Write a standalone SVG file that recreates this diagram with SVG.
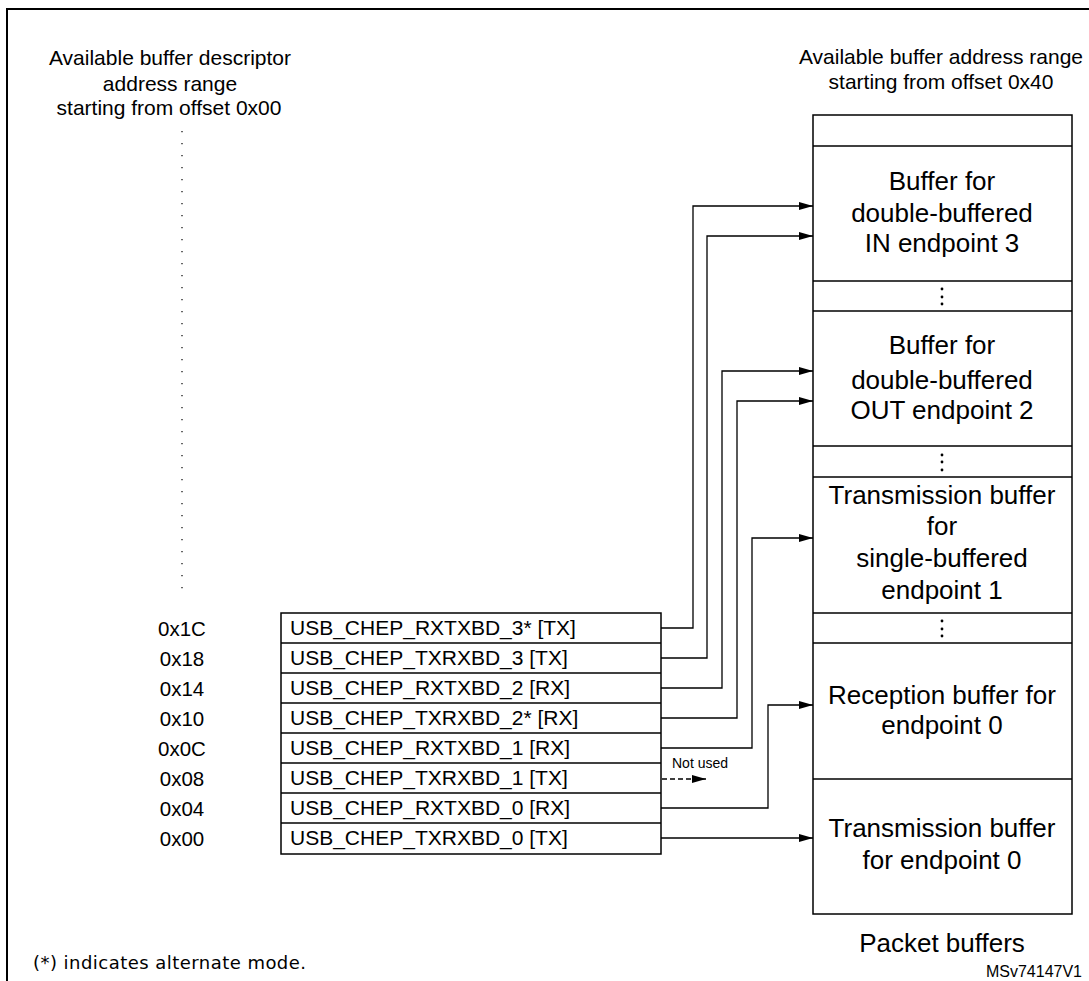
<svg xmlns="http://www.w3.org/2000/svg" width="1089" height="981" viewBox="0 0 1089 981">
<style>
text{font-family:"Liberation Sans",Arial,sans-serif;fill:#000}
.h{font-size:21px;text-anchor:middle}
.b{font-size:26px;text-anchor:middle}
.a{font-size:20.5px;text-anchor:middle}
.t{font-size:21px}
.box{fill:#fff;stroke:#000;stroke-width:1.5}
.c{fill:none;stroke:#000;stroke-width:1.3}
.d{fill:#000}
</style>
<defs>
<marker id="ar" markerWidth="14" markerHeight="8" refX="14" refY="4" orient="auto" markerUnits="userSpaceOnUse"><path d="M0,0L14,4L0,8z" fill="#000"/></marker>
</defs>
<rect width="1089" height="981" fill="#fff"/>
<path d="M7,981V9H1089" fill="none" stroke="#000" stroke-width="2"/>
<text class="h" x="170" y="65">Available buffer descriptor</text>
<text class="h" x="170" y="91">address range</text>
<text class="h" x="169" y="115">starting from offset 0x00</text>
<line x1="182" y1="131" x2="182" y2="598" stroke="#000" stroke-width="1.2" stroke-dasharray="1.2,10.8"/>
<text class="h" x="941" y="64">Available buffer address range</text>
<text class="h" x="941" y="89">starting from offset 0x40</text>
<g id="buffers">
<rect class="box" x="813" y="115" width="259" height="799"/>
<line class="c" x1="813" y1="146" x2="1072" y2="146"/>
<line class="c" x1="813" y1="281" x2="1072" y2="281"/>
<line class="c" x1="813" y1="311" x2="1072" y2="311"/>
<line class="c" x1="813" y1="446" x2="1072" y2="446"/>
<line class="c" x1="813" y1="477" x2="1072" y2="477"/>
<line class="c" x1="813" y1="613" x2="1072" y2="613"/>
<line class="c" x1="813" y1="643" x2="1072" y2="643"/>
<line class="c" x1="813" y1="779" x2="1072" y2="779"/>
</g>
<g id="buf-in3"><text class="b" x="942" y="190">Buffer for</text><text class="b" x="942" y="222">double-buffered</text><text class="b" x="942" y="252">IN endpoint 3</text></g>
<g id="buf-out2"><text class="b" x="942" y="354">Buffer for</text><text class="b" x="942" y="389">double-buffered</text><text class="b" x="942" y="419">OUT endpoint 2</text></g>
<g id="buf-tx1"><text class="b" x="942" y="504">Transmission buffer</text><text class="b" x="942" y="535">for</text><text class="b" x="942" y="567">single-buffered</text><text class="b" x="942" y="599">endpoint 1</text></g>
<g id="buf-rx0"><text class="b" x="942" y="704">Reception buffer for</text><text class="b" x="942" y="734">endpoint 0</text></g>
<g id="buf-tx0"><text class="b" x="942" y="837">Transmission buffer</text><text class="b" x="942" y="869">for endpoint 0</text></g>
<g id="dots">
<circle class="d" cx="942" cy="289" r="1.4"/><circle class="d" cx="942" cy="297" r="1.4"/><circle class="d" cx="942" cy="304" r="1.4"/>
<circle class="d" cx="942" cy="455" r="1.4"/><circle class="d" cx="942" cy="462" r="1.4"/><circle class="d" cx="942" cy="470" r="1.4"/>
<circle class="d" cx="942" cy="621" r="1.4"/><circle class="d" cx="942" cy="629" r="1.4"/><circle class="d" cx="942" cy="636" r="1.4"/>
</g>
<g id="table">
<rect class="box" x="281" y="613" width="380" height="241"/>
<line class="c" x1="281" y1="643" x2="661" y2="643"/>
<line class="c" x1="281" y1="673" x2="661" y2="673"/>
<line class="c" x1="281" y1="703" x2="661" y2="703"/>
<line class="c" x1="281" y1="733" x2="661" y2="733"/>
<line class="c" x1="281" y1="763" x2="661" y2="763"/>
<line class="c" x1="281" y1="793" x2="661" y2="793"/>
<line class="c" x1="281" y1="823" x2="661" y2="823"/>
<text class="t" x="290" y="635">USB_CHEP_RXTXBD_3* [TX]</text>
<text class="t" x="290" y="665">USB_CHEP_TXRXBD_3 [TX]</text>
<text class="t" x="290" y="695">USB_CHEP_RXTXBD_2 [RX]</text>
<text class="t" x="290" y="725">USB_CHEP_TXRXBD_2* [RX]</text>
<text class="t" x="290" y="755">USB_CHEP_RXTXBD_1 [RX]</text>
<text class="t" x="290" y="785">USB_CHEP_TXRXBD_1 [TX]</text>
<text class="t" x="290" y="815">USB_CHEP_RXTXBD_0 [RX]</text>
<text class="t" x="290" y="845">USB_CHEP_TXRXBD_0 [TX]</text>
</g>
<g id="addresses">
<text class="a" x="182" y="636">0x1C</text>
<text class="a" x="182" y="666">0x18</text>
<text class="a" x="182" y="696">0x14</text>
<text class="a" x="182" y="726">0x10</text>
<text class="a" x="182" y="756">0x0C</text>
<text class="a" x="182" y="786">0x08</text>
<text class="a" x="182" y="816">0x04</text>
<text class="a" x="182" y="846">0x00</text>
</g>
<g id="connectors">
<path class="c" d="M661,628H693V206H813" marker-end="url(#ar)"/>
<path class="c" d="M661,658H707V236H813" marker-end="url(#ar)"/>
<path class="c" d="M661,688H722V371H813" marker-end="url(#ar)"/>
<path class="c" d="M661,718H737V401H813" marker-end="url(#ar)"/>
<path class="c" d="M661,748H752V538H813" marker-end="url(#ar)"/>
<path class="c" d="M662,779H706" stroke-dasharray="5,3" marker-end="url(#ar)"/>
<path class="c" d="M661,808H768V705H813" marker-end="url(#ar)"/>
<path class="c" d="M661,838H813" marker-end="url(#ar)"/>
<text x="672" y="768" style="font-size:14px">Not used</text>
</g>
<text class="b" x="942" y="952">Packet buffers</text>
<text x="1082" y="977" style="font-size:16px;text-anchor:end">MSv74147V1</text>
<text x="33" y="969" textLength="273" style="font-size:18px;font-family:'DejaVu Sans',sans-serif">(*) indicates alternate mode.</text>
</svg>
